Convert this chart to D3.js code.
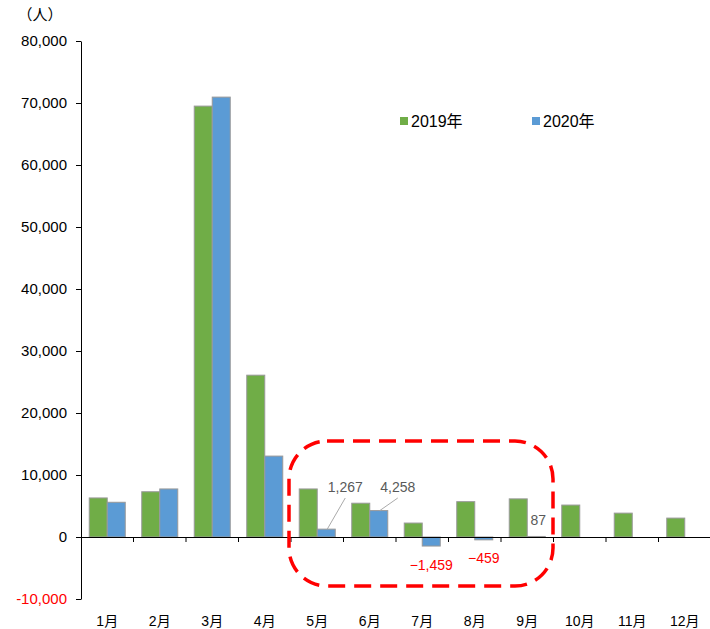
<!DOCTYPE html>
<html>
<head>
<meta charset="utf-8">
<script src="https://cdn.jsdelivr.net/npm/d3@7"></script>
<style>
body { margin: 0; background: #fff; }
text { font-family: "Liberation Sans", "Noto Sans CJK JP", sans-serif; }
</style>
</head>
<body>
<div id="chart"></div>
<script>
var months = ["1月","2月","3月","4月","5月","6月","7月","8月","9月","10月","11月","12月"];
var series = ["2019年", "2020年"];
var values2019 = [6300, 7300, 69500, 26100, 7750, 5450, 2250, 5700, 6150, 5150, 3850, 3050];
var values2020 = [5600, 7750, 70950, 13050, 1267, 4258, -1459, -459, 87, null, null, null];
var yTicks = [-10000, 0, 10000, 20000, 30000, 40000, 50000, 60000, 70000, 80000];
var colors = ["#70ad47", "#5b9bd5"];

var width = 710, height = 629;
var margin = {top: 41, right: 0, bottom: 30, left: 81};

var svg = d3.select("#chart").append("svg")
    .attr("width", width)
    .attr("height", height);

var x = d3.scaleBand()
    .domain(months)
    .range([margin.left, 711]);

var xs = d3.scaleBand()
    .domain(series)
    .range([0, 36]);

var y = d3.scaleLinear()
    .domain([-10000, 80000])
    .range([599, margin.top]);

// y axis
var yAxis = svg.append("g")
    .attr("transform", "translate(" + margin.left + ",0)")
    .call(d3.axisLeft(y).tickValues(yTicks).tickSize(5).tickSizeOuter(0).tickFormat(d3.format(",")));
yAxis.select(".domain").attr("stroke", "#000");
yAxis.selectAll("text")
    .style("font-size", "15px")
    .attr("x", -14)
    .attr("fill", function(d) { return d < 0 ? "#ff0000" : "#000"; })
    .text(function(d) { return d < 0 ? "-" + d3.format(",")(-d) : d3.format(",")(d); });

// unit label
svg.append("text")
    .attr("x", 40)
    .attr("y", 20)
    .attr("text-anchor", "middle")
    .style("font-size", "15px")
    .text("（人）");

// bars
var rows = months.map(function(m, i) {
  return {month: m, vals: [values2019[i], values2020[i]]};
});

var groups = svg.selectAll(".grp")
    .data(rows)
  .enter().append("g")
    .attr("class", "grp")
    .attr("transform", function(d) { return "translate(" + (x(d.month) + x.bandwidth() / 2 - 18) + ",0)"; });

groups.selectAll("rect")
    .data(function(d) {
      return d.vals.map(function(v, j) { return {s: series[j], v: v, j: j}; })
        .filter(function(e) { return e.v !== null; });
    })
  .enter().append("rect")
    .attr("x", function(d) { return xs(d.s); })
    .attr("width", xs.bandwidth())
    .attr("y", function(d) { return y(Math.max(0, d.v)); })
    .attr("height", function(d) { return Math.abs(y(d.v) - y(0)); })
    .attr("fill", function(d) { return colors[d.j]; })
    .attr("stroke", "#999")
    .attr("stroke-width", 1);

// x axis along zero line
var xAxis = svg.append("g")
    .attr("transform", "translate(0," + y(0) + ")")
    .call(d3.axisBottom(x).tickSize(0).tickSizeOuter(0));
xAxis.select(".domain").attr("stroke", "#000");
xAxis.selectAll("text")
    .attr("dy", null)
    .attr("y", y(-10000) - y(0) + 27)
    .style("font-size", "14px")
    .attr("fill", "#000");

// tick marks at band boundaries
svg.selectAll(".btick")
    .data(months.slice(1))
  .enter().append("line")
    .attr("class", "btick")
    .attr("x1", function(d) { return x(d); })
    .attr("x2", function(d) { return x(d); })
    .attr("y1", y(0))
    .attr("y2", y(0) + 5)
    .attr("stroke", "#000");

// data labels for 2020 (May - Sep)
var labelIdx = [4, 5, 6, 7, 8];
labelIdx.forEach(function(i) {
  var v = values2020[i];
  var bx = x(months[i]) + x.bandwidth() / 2 - 18 + xs(series[1]);
  var cx = bx + xs.bandwidth() / 2;
  var lx, ly, txt, col;
  if (v < 0) {
    lx = cx;
    ly = v < -1000 ? 570 : 563;
    txt = "\u2212" + d3.format(",")(-v);
    col = "#ff0000";
  } else if (i === 8) {
    lx = cx + 2;
    ly = 525;
    txt = d3.format(",")(v);
    col = "#595959";
  } else {
    lx = cx + 19;
    ly = 492;
    txt = d3.format(",")(v);
    col = "#595959";
    svg.append("line")
      .attr("x1", lx)
      .attr("y1", 498)
      .attr("x2", cx + 1)
      .attr("y2", y(v))
      .attr("stroke", "#aaa")
      .attr("stroke-width", 1);
  }
  svg.append("text")
    .attr("x", lx)
    .attr("y", ly)
    .attr("text-anchor", "middle")
    .style("font-size", "14px")
    .attr("fill", col)
    .text(txt);
});

// highlight box
svg.append("rect")
    .attr("x", 289)
    .attr("y", 441)
    .attr("width", 264)
    .attr("height", 145)
    .attr("rx", 38)
    .attr("ry", 38)
    .attr("fill", "none")
    .attr("stroke", "#ff0000")
    .attr("stroke-width", 3.5)
    .attr("stroke-dasharray", "17,9");

// legend
var legend = svg.selectAll(".leg")
    .data(series)
  .enter().append("g")
    .attr("class", "leg")
    .attr("transform", function(d, i) { return "translate(" + (400 + i * 132) + ",117)"; });
legend.append("rect")
    .attr("width", 8)
    .attr("height", 8)
    .attr("fill", function(d, i) { return colors[i]; });
legend.append("text")
    .attr("x", 11)
    .attr("y", 10)
    .style("font-size", "16px")
    .text(function(d) { return d; });
</script>
</body>
</html>
